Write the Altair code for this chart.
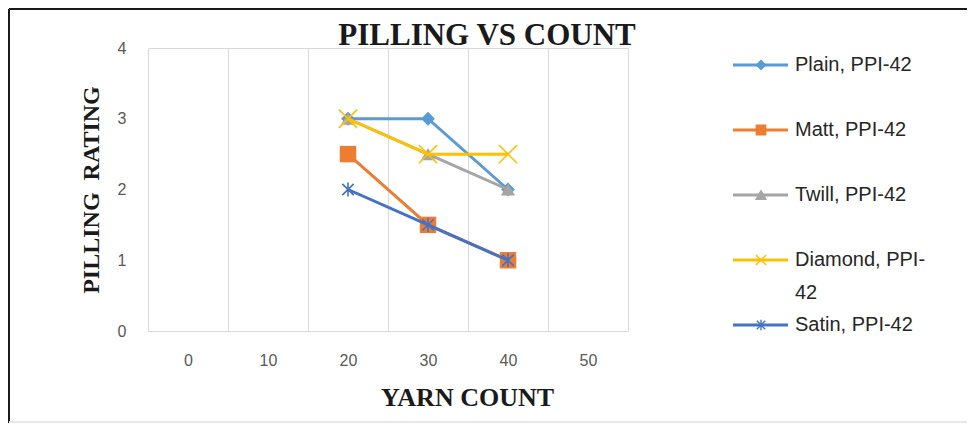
import altair as alt
import pandas as pd

# ---- data ----
SERIES = ["Plain, PPI-42", "Matt, PPI-42", "Twill, PPI-42", "Diamond, PPI-42", "Satin, PPI-42"]
YARN_COUNT = [20, 30, 40]
PLAIN = [3, 3, 2]
MATT = [2.5, 1.5, 1]
TWILL = [3, 2.5, 2]
DIAMOND = [3, 2.5, 2.5]
SATIN = [2, 1.5, 1]
X_TICKS = [0, 10, 20, 30, 40, 50]
Y_TICKS = [0, 1, 2, 3, 4]
LEGEND_LINE1 = ["Plain, PPI-42", "Matt, PPI-42", "Twill, PPI-42", "Diamond, PPI-", "Satin, PPI-42"]
LEGEND_LINE2 = ["", "", "", "42", ""]

# ---- styles ----
COLORS = ["#5B9BD5", "#ED7D31", "#A5A5A5", "#FFC000", "#4472C4"]
X_PATH = "M-1,-1L1,1M1,-1L-1,1"
AST_PATH = "M-0.8,-0.8L0.8,0.8M0.8,-0.8L-0.8,0.8M0,-1L0,1"
SHAPES = ["diamond", "square", "triangle-up", X_PATH, AST_PATH]
SIZES = [190, 270, 200, 330, 200]
LEG_SIZES = [80, 110, 90, 150, 110]

W, H = 480, 283
BAND = W / len(X_TICKS)

values = [PLAIN, MATT, TWILL, DIAMOND, SATIN]
rows = []
for s, vals in zip(SERIES, values):
    for x, v in zip(YARN_COUNT, vals):
        rows.append({"series": s, "count": x, "rating": v})
df = pd.DataFrame(rows)

x_enc = alt.X(
    "count:Q",
    scale=alt.Scale(domain=[X_TICKS[0] - 5, X_TICKS[-1] + 5], nice=False, zero=False),
    axis=alt.Axis(
        values=[t - 5 for t in X_TICKS],
        labelExpr="datum.value + 5",
        labelOffset=BAND / 2,
        labelFlush=False,
        labelOverlap=False,
        labelBound=False,
        grid=True,
        gridColor="#d9d9d9",
        gridWidth=1,
        ticks=False,
        tickSize=0,
        domain=False,
        labelFont="Liberation Sans",
        labelFontSize=16,
        labelColor="#595959",
        labelPadding=21,
        title="YARN COUNT",
        titleFont="Liberation Serif",
        titleFontSize=26,
        titleFontWeight="bold",
        titleColor="#1a1a1a",
        titleX=319,
        titleAlign="center",
        titlePadding=16,
    ),
)
y_enc = alt.Y(
    "rating:Q",
    scale=alt.Scale(domain=[0, 4], nice=False),
    axis=alt.Axis(
        values=Y_TICKS,
        format="d",
        grid=False,
        ticks=False,
        tickSize=0,
        domain=False,
        labelFlush=False,
        labelFont="Liberation Sans",
        labelFontSize=16,
        labelColor="#595959",
        labelPadding=22,
        title="PILLING\u00a0\u00a0RATING",
        titleFont="Liberation Serif",
        titleFontSize=24,
        titleFontWeight="bold",
        titleColor="#1a1a1a",
        titlePadding=14,
    ),
)

series_layers = []
for i, s in enumerate(SERIES):
    base = alt.Chart(df).transform_filter(alt.datum.series == s)
    line = base.mark_line(color=COLORS[i], strokeWidth=3).encode(x=x_enc, y=y_enc)
    filled = i < 3
    pt = base.mark_point(
        shape=SHAPES[i], size=SIZES[i], filled=filled, opacity=1,
        color=COLORS[i], stroke=COLORS[i], strokeWidth=1.6 if not filled else 0,
    ).encode(x="count:Q", y="rating:Q")
    series_layers.append(line + pt)
data_layer = alt.layer(*series_layers)

# ---- legend built from the series lists ----
leg_df = pd.DataFrame({"series": SERIES, "l1": LEGEND_LINE1, "l2": LEGEND_LINE2})
leg_y = alt.Y("series:N", scale=alt.Scale(type="point", domain=SERIES, range=[17, 277], padding=0), axis=None)
leg_color = alt.Color("series:N", scale=alt.Scale(domain=SERIES, range=COLORS), legend=None)
leg_line = alt.Chart(leg_df).mark_rule(strokeWidth=3).encode(
    x=alt.value(585), x2=alt.value(640), y=leg_y, color=leg_color
)
leg_pt = alt.Chart(leg_df).mark_point(filled=True, opacity=1, strokeWidth=1.4).encode(
    x=alt.value(613), y=leg_y, color=leg_color,
    stroke=alt.Stroke("series:N", scale=alt.Scale(domain=SERIES, range=COLORS), legend=None),
    shape=alt.Shape("series:N", scale=alt.Scale(domain=SERIES, range=SHAPES), legend=None),
    size=alt.Size("series:N", scale=alt.Scale(domain=SERIES, range=LEG_SIZES), legend=None),
)
leg_t1 = alt.Chart(leg_df).mark_text(
    align="left", baseline="middle", font="Liberation Sans", fontSize=20, color="#262626"
).encode(x=alt.value(647), y=leg_y, text="l1:N")
leg_t2 = alt.Chart(leg_df).mark_text(
    align="left", baseline="middle", font="Liberation Sans", fontSize=20, color="#262626", dy=33
).encode(x=alt.value(647), y=leg_y, text="l2:N")
legend_layer = alt.layer(leg_line, leg_pt, leg_t1, leg_t2)

# ---- outer frame ----
one = pd.DataFrame({"k": [0]})
frame_top = alt.Chart(one).mark_rule(color="#1a1a1a", strokeWidth=2).encode(
    x=alt.value(-139), x2=alt.value(820), y=alt.value(-39))
frame_left = alt.Chart(one).mark_rule(color="#1a1a1a", strokeWidth=2).encode(
    x=alt.value(-139), y=alt.value(-39), y2=alt.value(375))
frame_bottom = alt.Chart(one).mark_rule(color="#e6e6e6", strokeWidth=2).encode(
    x=alt.value(-139), x2=alt.value(820), y=alt.value(374))

chart = alt.layer(data_layer, legend_layer, frame_top, frame_left, frame_bottom).resolve_scale(
    y="independent"
).properties(
    width=W,
    height=H,
    autosize=alt.AutoSizeParams(type="none"),
    padding={"left": 140, "top": 40, "right": 339, "bottom": 93},
    title=alt.TitleParams(
        "PILLING VS COUNT",
        font="Liberation Serif",
        fontSize=31,
        fontWeight="bold",
        color="#1a1a1a",
        anchor="middle",
        frame="group",
        baseline="alphabetic",
        dx=99,
        dy=68,
        offset=0,
    ),
).configure_view(stroke="#d9d9d9", strokeWidth=1)

chart.save("out.html", embed_options={"renderer": "svg", "actions": False})
